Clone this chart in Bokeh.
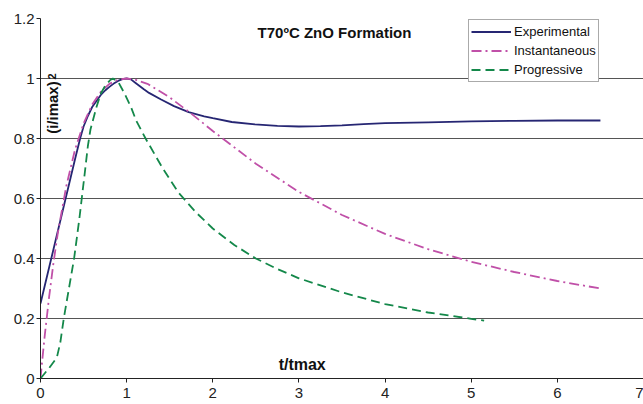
import math
from bokeh.plotting import figure
from bokeh.models import Range1d, FixedTicker, Label
from bokeh.embed import file_html
from bokeh.resources import INLINE

# ---- data ----
t_exp = [0, 0.05, 0.1, 0.15, 0.2, 0.25, 0.3, 0.35, 0.4, 0.46, 0.5, 0.55, 0.6, 0.65, 0.7, 0.75,
         0.8, 0.85, 0.9, 0.95, 1.0, 1.05, 1.1, 1.15, 1.2, 1.26, 1.4, 1.55, 1.72, 1.9, 2.0, 2.22,
         2.49, 2.75, 3.0, 3.25, 3.5, 3.75, 4.0, 4.5, 5.0, 5.5, 6.0, 6.5]
y_exp = [0.25, 0.31, 0.37, 0.43, 0.49, 0.55, 0.61, 0.67, 0.73, 0.80, 0.84, 0.875, 0.905, 0.925,
         0.945, 0.96, 0.972, 0.983, 0.992, 0.998, 1.0, 0.997, 0.986, 0.975, 0.964, 0.952, 0.93,
         0.908, 0.888, 0.874, 0.868, 0.855, 0.847, 0.842, 0.840, 0.841, 0.844, 0.848, 0.851,
         0.854, 0.857, 0.859, 0.860, 0.860]

t_inst = [0, 0.02, 0.05, 0.1, 0.15, 0.2, 0.3, 0.4, 0.5, 0.6, 0.7, 0.8, 0.9, 1.0, 1.1, 1.25,
          1.5, 1.75, 2.0, 2.5, 3.0, 3.5, 4.0, 4.5, 5.0, 5.5, 6.0, 6.5]
y_inst = [0, 0.06, 0.145, 0.272, 0.384, 0.483, 0.642, 0.762, 0.850, 0.913, 0.956, 0.982, 0.996,
          1.0, 0.996, 0.981, 0.937, 0.883, 0.825, 0.716, 0.622, 0.545, 0.482, 0.431, 0.389,
          0.355, 0.325, 0.300]

t_prog = [0, 0.1, 0.19, 0.23, 0.27, 0.33, 0.39, 0.45, 0.52, 0.55, 0.58, 0.65, 0.7, 0.75, 0.81,
          0.84, 0.9, 0.975, 1.05, 1.11, 1.22, 1.42, 1.6, 1.8, 2.0, 2.25, 2.5, 2.75, 3.0, 3.5,
          4.0, 4.5, 5.0, 5.15]
y_prog = [0, 0.035, 0.07, 0.12, 0.2, 0.3, 0.4, 0.53, 0.70, 0.775, 0.83, 0.905, 0.95, 0.975,
          0.995, 1.0, 0.99, 0.95, 0.905, 0.86, 0.80, 0.70, 0.62, 0.555, 0.50, 0.445, 0.40,
          0.365, 0.334, 0.287, 0.248, 0.22, 0.199, 0.193]

x_ticks = [0, 1, 2, 3, 4, 5, 6, 7]
y_ticks = [0, 0.2, 0.4, 0.6, 0.8, 1, 1.2]
y_tick_labels = ["0", "0.2", "0.4", "0.6", "0.8", "1", "1.2"]

title_text = "T70ºC ZnO Formation"
x_label = "t/tmax"
y_label = "(i/imax)"
y_label_sup = "2"
series_names = ["Experimental", "Instantaneous", "Progressive"]

FONT = "Liberation Sans"

p = figure(width=643, height=404, x_range=Range1d(0, 7), y_range=Range1d(0, 1.2),
           output_backend="svg", toolbar_location=None,
           min_border_left=40, min_border_right=0, min_border_top=18, min_border_bottom=26)
p.outline_line_color = None
p.background_fill_color = "white"
p.border_fill_color = "white"

p.xgrid.grid_line_color = None
p.ygrid.ticker = FixedTicker(ticks=y_ticks)
p.ygrid.grid_line_color = "#555555"
p.ygrid.grid_line_width = 1

p.xaxis.ticker = FixedTicker(ticks=x_ticks)
p.yaxis.ticker = FixedTicker(ticks=y_ticks)
p.yaxis.major_label_overrides = {k: v for k, v in zip(y_ticks, y_tick_labels)}

for ax in (p.xaxis[0], p.yaxis[0]):
    ax.axis_line_color = "#222222"
    ax.axis_line_width = 1
    ax.major_tick_line_color = "#222222"
    ax.major_tick_in = 0
    ax.major_tick_out = 4
    ax.minor_tick_line_color = None
    ax.major_label_text_font = FONT
    ax.major_label_text_color = "#222222"
p.xaxis.major_label_text_font_size = "15px"
p.xaxis.major_label_standoff = 5
p.yaxis.major_label_text_font_size = "15px"
p.yaxis.major_label_standoff = 2

p.line(t_exp, y_exp, line_color="#262673", line_width=1.8, legend_label=series_names[0])
p.line(t_inst, y_inst, line_color="#C050A8", line_width=1.8, line_dash="10 4 2 4",
       legend_label=series_names[1])
p.line(t_prog, y_prog, line_color="#14884A", line_width=1.8, line_dash="9 5",
       legend_label=series_names[2])

lg = p.legend[0]
lg.location = (428, 296)
lg.label_text_font = FONT
lg.label_text_font_size = "13px"
lg.label_text_color = "#111111"
lg.label_height = 19
lg.glyph_height = 19
lg.glyph_width = 40
lg.label_standoff = 3
lg.padding = 2
lg.spacing = 0
lg.margin = 0
lg.border_line_color = "#555555"
lg.border_line_width = 1
lg.background_fill_color = "white"
lg.background_fill_alpha = 1

p.add_layout(Label(x=3.413, y=1.154, text=title_text, text_font=FONT, text_font_size="15px",
                   text_font_style="bold", text_align="center", text_baseline="middle",
                   text_color="#111111"))
p.add_layout(Label(x=3.038, y=0.046, text=x_label, text_font=FONT, text_font_size="16px",
                   text_font_style="bold", text_align="center", text_baseline="middle",
                   text_color="#111111"))
p.add_layout(Label(x=0.145, y=0.903, text=y_label, text_font=FONT, text_font_size="15px",
                   text_font_style="bold", text_align="center", text_baseline="middle",
                   angle=math.pi / 2, text_color="#111111"))
p.add_layout(Label(x=0.1335, y=1.007, text=y_label_sup, text_font=FONT, text_font_size="11px",
                   text_font_style="bold", text_align="center", text_baseline="middle",
                   angle=math.pi / 2, text_color="#111111"))

open("out.html", "w").write(file_html(p, INLINE))
